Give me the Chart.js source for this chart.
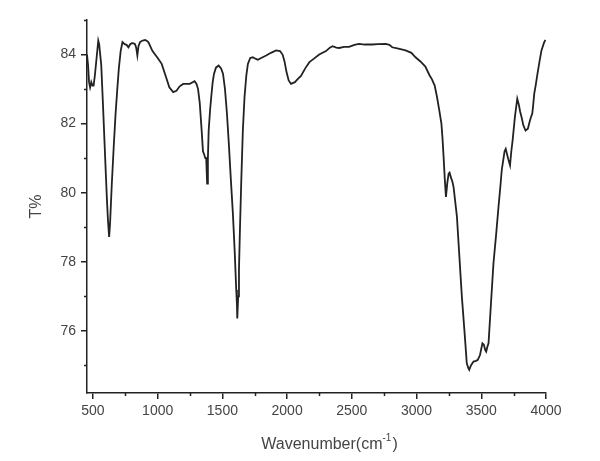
<!DOCTYPE html>
<html>
<head>
<meta charset="utf-8">
<script src="https://cdn.jsdelivr.net/npm/chart.js@4"></script>
<style>
  html, body { margin: 0; padding: 0; background: #fff; }
  #wrap { width: 600px; height: 461px; }
</style>
</head>
<body>
<div id="wrap"><canvas id="ir-chart"></canvas></div>
<script>
// IR spectrum
const wavenumber = [
  454, 462, 470, 478, 487, 496, 505, 515, 528, 541, 548, 556, 564, 578, 590, 600, 608, 616, 625, 632,
  645, 660, 675, 690, 700, 714, 728, 745, 760, 774, 788, 800, 815, 825, 834, 843, 852, 864, 880, 902,
  915, 928, 960, 1000, 1031, 1060, 1090, 1120, 1145, 1170, 1197, 1225, 1248, 1270, 1285, 1300, 1312, 1325, 1338, 1350,
  1360, 1368, 1375, 1382, 1388, 1394, 1405, 1415, 1425, 1435, 1450, 1471, 1490, 1505, 1520, 1535, 1550, 1565, 1581, 1595,
  1607, 1612, 1615, 1622, 1628, 1636, 1646, 1658, 1671, 1685, 1697, 1715, 1735, 1755, 1774, 1800, 1838, 1875, 1915, 1945,
  1965, 1980, 1995, 2012, 2030, 2060, 2085, 2107, 2140, 2172, 2200, 2248, 2300, 2330, 2351, 2380, 2402, 2440, 2479, 2520,
  2556, 2600, 2658, 2700, 2761, 2790, 2812, 2860, 2915, 2960, 2992, 3030, 3068, 3100, 3119, 3140, 3158, 3175, 3192, 3200,
  3209, 3218, 3227, 3238, 3248, 3255, 3265, 3278, 3286, 3300, 3312, 3330, 3350, 3370, 3388, 3400, 3407, 3420, 3440, 3460,
  3473, 3490, 3509, 3520, 3530, 3538, 3548, 3556, 3575, 3594, 3615, 3633, 3648, 3658, 3670, 3680, 3689, 3700, 3710, 3722,
  3732, 3742, 3760, 3778, 3790, 3800, 3811, 3825, 3842, 3860, 3876, 3885, 3894, 3900, 3909, 3920, 3934, 3950, 3965, 3986,
  3996
];
const transmittance = [
  84.0, 83.7, 83.2, 83.05, 83.2, 83.1, 83.1, 83.4, 83.9, 84.4, 84.3, 84.0, 83.7, 82.5, 81.4, 80.5, 79.8, 79.2, 78.72, 79.1,
  80.2, 81.3, 82.3, 83.1, 83.6, 84.1, 84.36, 84.3, 84.28, 84.21, 84.3, 84.33, 84.32, 84.3, 84.2, 83.97, 84.25, 84.36, 84.4, 84.42,
  84.4, 84.36, 84.1, 83.9, 83.73, 83.4, 83.05, 82.91, 82.95, 83.08, 83.15, 83.15, 83.15, 83.2, 83.23, 83.15, 83.0, 82.6, 81.9, 81.2,
  81.1, 81.0, 81.0, 80.26, 81.0, 81.8, 82.4, 82.82, 83.2, 83.44, 83.62, 83.68, 83.6, 83.44, 83.0, 82.3, 81.4, 80.4, 79.4, 78.3,
  77.18, 76.8, 76.36, 77.0, 77.76, 79.0, 80.36, 81.8, 82.77, 83.4, 83.73, 83.9, 83.92, 83.88, 83.85, 83.9, 83.97, 84.05, 84.12, 84.1,
  84.0, 83.8, 83.5, 83.25, 83.15, 83.2, 83.3, 83.38, 83.6, 83.78, 83.86, 84.0, 84.1, 84.2, 84.24, 84.2, 84.19, 84.22, 84.22, 84.28,
  84.31, 84.29, 84.29, 84.3, 84.31, 84.28, 84.21, 84.17, 84.12, 84.05, 83.92, 83.8, 83.65, 83.4, 83.28, 83.1, 82.77, 82.4, 82.0, 81.6,
  81.03, 80.4, 79.88, 80.3, 80.55, 80.58, 80.45, 80.3, 80.16, 79.7, 79.3, 78.2, 76.99, 76.0, 75.06, 74.92, 74.87, 75.0, 75.11, 75.13,
  75.16, 75.3, 75.64, 75.6, 75.45, 75.4, 75.55, 75.64, 76.8, 77.95, 78.8, 79.59, 80.2, 80.65, 80.95, 81.2, 81.27, 81.1, 80.95, 80.79,
  81.2, 81.51, 82.2, 82.72, 82.55, 82.35, 82.19, 81.95, 81.8, 81.85, 82.09, 82.2, 82.29, 82.5, 82.86, 83.1, 83.44, 83.8, 84.12, 84.36,
  84.42
];
const xTicks = [500, 1000, 1500, 2000, 2500, 3000, 3500, 4000];
const xMinorTicks = [750, 1250, 1750, 2250, 2750, 3250, 3750];
const yTicks = [76, 78, 80, 82, 84];
const yMinorTicks = [75, 77, 79, 81, 83, 85];

const points = wavenumber.map((w, i) => ({ x: w, y: transmittance[i] }));

const ink = '#222';
const labelColor = '#444';

// short minor ticks and the x title with its superscript
const extras = {
  id: 'extras',
  afterDraw(chart) {
    const ctx = chart.ctx;
    const xs = chart.scales.x, ys = chart.scales.y;
    const area = chart.chartArea;
    ctx.save();
    ctx.strokeStyle = ink;
    ctx.lineWidth = 1.5;
    ctx.beginPath();
    xMinorTicks.forEach(v => {
      const px = Math.round(xs.getPixelForValue(v)) + 0.5;
      ctx.moveTo(px, area.bottom);
      ctx.lineTo(px, area.bottom + 3);
    });
    yMinorTicks.forEach(v => {
      const py = Math.round(ys.getPixelForValue(v)) + 0.5;
      ctx.moveTo(area.left, py);
      ctx.lineTo(area.left - 3, py);
    });
    ctx.stroke();

    const main = 'Wavenumber(cm';
    const sup = '-1';
    const close = ')';
    ctx.fillStyle = labelColor;
    ctx.textBaseline = 'alphabetic';
    ctx.font = '16px "Liberation Sans", Arial, sans-serif';
    const w1 = ctx.measureText(main).width;
    const w3 = ctx.measureText(close).width;
    ctx.font = '10px "Liberation Sans", Arial, sans-serif';
    const w2 = ctx.measureText(sup).width;
    const cx = (area.left + area.right) / 2 + 13;
    let x0 = cx - (w1 + w2 + w3 + 1) / 2;
    const base = 449;
    ctx.textAlign = 'left';
    ctx.font = '16px "Liberation Sans", Arial, sans-serif';
    ctx.fillText(main, x0, base);
    x0 += w1;
    ctx.font = '10px "Liberation Sans", Arial, sans-serif';
    ctx.fillText(sup, x0, base - 8);
    x0 += w2 + 1;
    ctx.font = '16px "Liberation Sans", Arial, sans-serif';
    ctx.fillText(close, x0, base);
    ctx.restore();
  }
};

new Chart(document.getElementById('ir-chart'), {
  type: 'line',
  data: {
    datasets: [{
      data: points,
      borderColor: ink,
      borderWidth: 1.8,
      pointRadius: 0,
      tension: 0,
      fill: false
    }]
  },
  options: {
    responsive: true,
    maintainAspectRatio: false,
    animation: false,
    layout: { padding: { top: 20, right: 54, left: 0, bottom: 0 } },
    plugins: {
      legend: { display: false },
      tooltip: { enabled: false }
    },
    scales: {
      x: {
        type: 'linear',
        min: 454,
        max: 4000,
        afterBuildTicks: s => { s.ticks = xTicks.map(v => ({ value: v })); },
        afterFit: s => { s.height = 68; },
        grid: { drawOnChartArea: false, tickLength: 6, color: ink, lineWidth: 1.5 },
        border: { display: true, color: ink, width: 1.5 },
        ticks: {
          color: labelColor,
          padding: 4,
          maxRotation: 0,
          callback: v => String(v),
          font: { family: '"Liberation Sans", Arial, sans-serif', size: 14 }
        },
        title: { display: false }
      },
      y: {
        type: 'linear',
        min: 74.2,
        max: 85,
        afterBuildTicks: s => { s.ticks = yTicks.map(v => ({ value: v })); },
        afterFit: s => { s.width = 87; },
        grid: { drawOnChartArea: false, tickLength: 6, color: ink, lineWidth: 1.5 },
        border: { display: true, color: ink, width: 1.5 },
        ticks: {
          color: labelColor,
          padding: 5,
          callback: v => String(v),
          font: { family: '"Liberation Sans", Arial, sans-serif', size: 14 }
        },
        title: {
          display: true,
          text: 'T%',
          color: labelColor,
          padding: { top: 27, bottom: 0 },
          font: { family: '"Liberation Sans", Arial, sans-serif', size: 16 }
        }
      }
    }
  },
  plugins: [extras]
});
</script>
</body>
</html>
